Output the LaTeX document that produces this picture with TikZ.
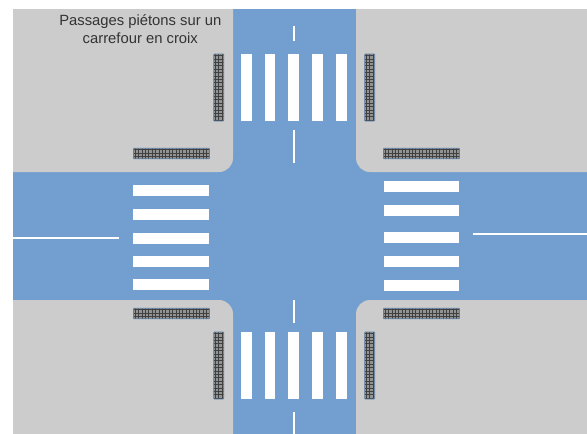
\documentclass[tikz,border=0pt]{standalone}
\usepackage{fontspec}
\setmainfont{Liberation Sans}
\usepackage{xcolor}
\usepackage{tikz}
\definecolor{roadblue}{HTML}{729FCF}
\definecolor{walkgray}{HTML}{CCCCCC}
\tikzset{
    stripeH/.style={draw=none, rectangle, fill=white, inner sep=0pt, minimum width=75.5pt, minimum height=10.5pt},
    stripeV/.style={draw=none, rectangle, fill=white, inner sep=0pt, minimum width=10.5pt, minimum height=67pt},
    gridbar/.style={draw=roadblue!80!black, line width=0.6pt, rectangle, rounded corners=0.5pt, inner sep=0pt, fill=gray!85,
        path picture={
            \foreach \k in {0,...,22} {
                \draw[black!75, line width=0.6pt] ([xshift=1.5pt+\k*3.4pt]path picture bounding box.north west) -- ([xshift=1.5pt+\k*3.4pt]path picture bounding box.south west);
                \draw[black!75, line width=0.6pt] ([yshift=-1.5pt-\k*3.4pt]path picture bounding box.north west) -- ([yshift=-1.5pt-\k*3.4pt]path picture bounding box.north east);
            }
        }},
    gridH/.style={gridbar, minimum width=76pt, minimum height=10.5pt},
    gridV/.style={gridbar, minimum width=10pt, minimum height=67pt},
    roadline/.style={draw=white, line width=1.8pt}
}

\begin{document}
\begin{tikzpicture}[x=1pt, y=-1pt]
    \useasboundingbox (0,0) rectangle (587,434);

    % Road
    \fill[roadblue] (13,9) rectangle (587,434);

    % Corners
    \fill[walkgray] (13,9) -- (233,9) [rounded corners=14pt] -- (233,172) [sharp corners] -- (13,172) -- cycle;
    \fill[walkgray] (587,9) -- (356,9) [rounded corners=14pt] -- (356,172) [sharp corners] -- (587,172) -- cycle;
    \fill[walkgray] (13,434) -- (233,434) [rounded corners=14pt] -- (233,300) [sharp corners] -- (13,300) -- cycle;
    \fill[walkgray] (587,434) -- (356,434) [rounded corners=14pt] -- (356,300) [sharp corners] -- (587,300) -- cycle;

    % Crossings north and south
    \foreach \i/\x in {1/246.5, 2/270, 3/293.7, 4/317.5, 5/341.5} {
        \node[stripeV] (north\i) at (\x, 87.5) {};
        \node[stripeV] (south\i) at (\x, 365.5) {};
    }

    % Crossings west and east
    \foreach \i/\y in {1/190.7, 2/214.5, 3/238.7, 4/261.5, 5/284.5} {
        \node[stripeH] (west\i) at (171.2, \y) {};
    }
    \foreach \i/\y in {1/186.5, 2/210.5, 3/237.7, 4/261.5, 5/285.5} {
        \node[stripeH] (east\i) at (421.3, \y) {};
    }

    % Grids
    \node[gridH] (gridNW) at (171.5, 153.5) {};
    \node[gridH] (gridNE) at (421.5, 153.5) {};
    \node[gridH] (gridSW) at (171.5, 313.5) {};
    \node[gridH] (gridSE) at (421.5, 313.5) {};
    \node[gridV] (gridWN) at (218.7, 87.5) {};
    \node[gridV] (gridEN) at (369.7, 87.5) {};
    \node[gridV] (gridWS) at (218.7, 365.5) {};
    \node[gridV] (gridES) at (369.7, 365.5) {};

    % Road lines
    \draw[roadline] (293.8,26) -- (293.8,41);
    \draw[roadline] (293.8,130) -- (293.8,163);
    \draw[roadline] (293.8,300) -- (293.8,323);
    \draw[roadline] (293.8,412) -- (293.8,434);
    \draw[roadline] (13,238) -- (119,238);
    \draw[roadline] (473,234) -- (587,234);

    \node[align=center, text=black!80, font=\fontsize{14.8}{18}\selectfont, inner sep=0pt] (title) at (140.3, 29) {Passages piétons sur un\\carrefour en croix};
\end{tikzpicture}
\end{document}
